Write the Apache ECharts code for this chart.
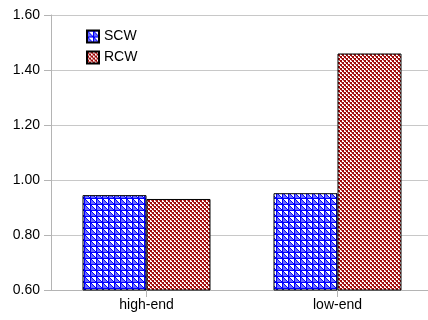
<!DOCTYPE html>
<html>
<head>
<meta charset="utf-8">
<script src="https://cdn.jsdelivr.net/npm/echarts@6/dist/echarts.min.js"></script>
<style>
  html, body { margin: 0; padding: 0; background: #fff; }
  #chart { width: 428px; height: 320px; }
</style>
</head>
<body>
<div id="chart"></div>
<script>
// data
var categories = ['high-end', 'low-end'];
var scwValues = [0.945, 0.952];
var rcwValues = [0.931, 1.46];
var seriesNames = ['SCW', 'RCW'];

// blue grid hatch with a diagonal in each cell
function bluePattern() {
  var c = document.createElement('canvas');
  c.width = 6; c.height = 6;
  var ctx = c.getContext('2d');
  ctx.fillStyle = '#ffffff';
  ctx.fillRect(0, 0, 6, 6);
  for (var y = 0; y < 6; y++) {
    for (var x = 0; x < 6; x++) {
      if (x === 0 || y === 0 || x === y) {
        ctx.fillStyle = '#0000ff';
        ctx.fillRect(x, y, 1, 1);
      } else if (y > x) {
        ctx.fillStyle = '#6a6aff';
        ctx.fillRect(x, y, 1, 1);
      }
    }
  }
  return c;
}

// red checkerboard
function redPattern() {
  var c = document.createElement('canvas');
  c.width = 4; c.height = 4;
  var ctx = c.getContext('2d');
  ctx.fillStyle = '#ffffff';
  ctx.fillRect(0, 0, 4, 4);
  ctx.fillStyle = '#a00c0c';
  ctx.fillRect(0, 0, 2, 2);
  ctx.fillRect(2, 2, 2, 2);
  ctx.fillStyle = '#c85050';
  ctx.fillRect(3, 0, 1, 1);
  ctx.fillRect(1, 2, 1, 1);
  return c;
}

var chart = echarts.init(document.getElementById('chart'));
var font = 'Liberation Sans, Arial, sans-serif';

chart.setOption({
  animation: false,
  textStyle: { fontFamily: font },
  legend: {
    orient: 'vertical',
    left: 86,
    top: 29,
    padding: 0,
    itemWidth: 12,
    itemHeight: 12,
    itemGap: 6,
    icon: 'rect',
    textStyle: { fontSize: 14, color: '#000', fontFamily: font, lineHeight: 15 },
    data: seriesNames
  },
  grid: {
    left: 51,
    top: 15,
    width: 382,
    height: 275,
    outerBoundsMode: 'none'
  },
  xAxis: {
    type: 'category',
    data: categories,
    axisLine: { lineStyle: { color: '#b4b4b4', width: 1 } },
    axisTick: { show: true, alignWithLabel: true, length: 7, lineStyle: { color: '#b4b4b4' } },
    axisLabel: { color: '#000', fontSize: 14, margin: 8, fontFamily: font },
    splitLine: { show: false }
  },
  yAxis: {
    type: 'value',
    min: 0.6,
    max: 1.6,
    interval: 0.2,
    axisLine: { show: true, lineStyle: { color: '#b4b4b4' } },
    axisTick: { show: true, length: 7, lineStyle: { color: '#b4b4b4' } },
    axisLabel: {
      color: '#000',
      fontSize: 14,
      margin: 11,
      fontFamily: font,
      formatter: function (v) { return v.toFixed(2); }
    },
    splitLine: { lineStyle: { color: '#c8c8c8', width: 1 } }
  },
  series: [
    {
      name: 'SCW',
      type: 'bar',
      data: scwValues,
      barGap: '0%',
      barCategoryGap: '33%',
      itemStyle: {
        color: { image: bluePattern(), repeat: 'repeat' },
        borderColor: '#000',
        borderWidth: 1
      }
    },
    {
      name: 'RCW',
      type: 'bar',
      data: rcwValues,
      barGap: '0%',
      barCategoryGap: '33%',
      itemStyle: {
        color: { image: redPattern(), repeat: 'repeat' },
        borderColor: '#000',
        borderWidth: 1
      }
    }
  ]
});

window.addEventListener('resize', function () { chart.resize(); });
</script>
</body>
</html>
